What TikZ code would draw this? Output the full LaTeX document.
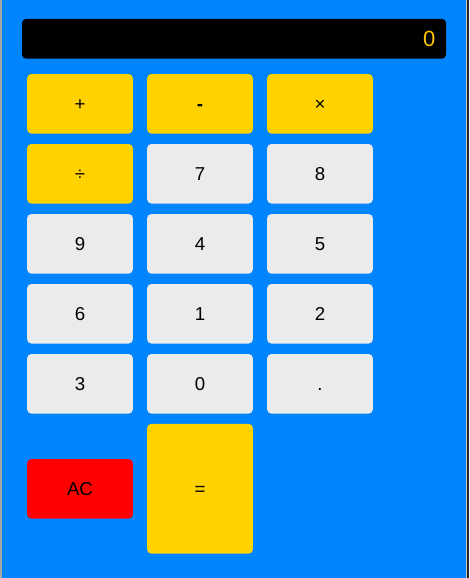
\documentclass[tikz,border=0pt]{standalone}
\usepackage{fontspec}
\setmainfont{Liberation Sans}
\usetikzlibrary{positioning}
\definecolor{calcblue}{HTML}{0085FF}
\definecolor{keyyellow}{HTML}{FFD200}
\definecolor{keygray}{HTML}{EBEBEB}
\definecolor{keyred}{HTML}{FF0000}
\definecolor{readout}{HTML}{FFC400}
\definecolor{edgegray}{HTML}{A8A8A8}

\begin{document}
\begin{tikzpicture}[x=0.75pt,y=-0.75pt,
	key/.style={rounded corners=3pt, inner sep=0pt, minimum width=79.2pt, minimum height=44.6pt, text height=10pt, text depth=0pt, font=\fontsize{14}{16}\selectfont},
	opkey/.style={key, fill=keyyellow},
	numkey/.style={key, fill=keygray},
	display/.style={fill=black, rounded corners=3pt, minimum width=318pt, minimum height=29.8pt, inner xsep=8pt, inner ysep=0pt, text width=302pt, align=right, text=readout, font=\fontsize{16.5}{19}\selectfont}]
	\useasboundingbox (0,0) rectangle (469,578);
	\fill[calcblue] (1.5,0) rectangle (466,578);
	\fill[edgegray] (0,0) rectangle (1.5,578);
	\fill[edgegray!60] (465.5,0) rectangle (467,578);
	\fill[black!85] (467,0) rectangle (469,578);
	\node[display] (screen) at (234,38.8) {0};
	\foreach \lab/\col/\row/\kind [count=\i] in {+/0/0/opkey, \textbf{-}/1/0/opkey, ×/2/0/opkey,
		÷/0/1/opkey, 7/1/1/numkey, 8/2/1/numkey,
		9/0/2/numkey, 4/1/2/numkey, 5/2/2/numkey,
		6/0/3/numkey, 1/1/3/numkey, 2/2/3/numkey,
		3/0/4/numkey, 0/1/4/numkey, ./2/4/numkey}
		\node[\kind] (key\i) at (80+120*\col,103.8+70*\row) {\lab};
	\node[key, fill=keyred] (clear) at (80,488.8) {AC};
	\node[opkey, minimum height=97.3pt] (equals) at (200,488.8) {=};
\end{tikzpicture}
\end{document}
